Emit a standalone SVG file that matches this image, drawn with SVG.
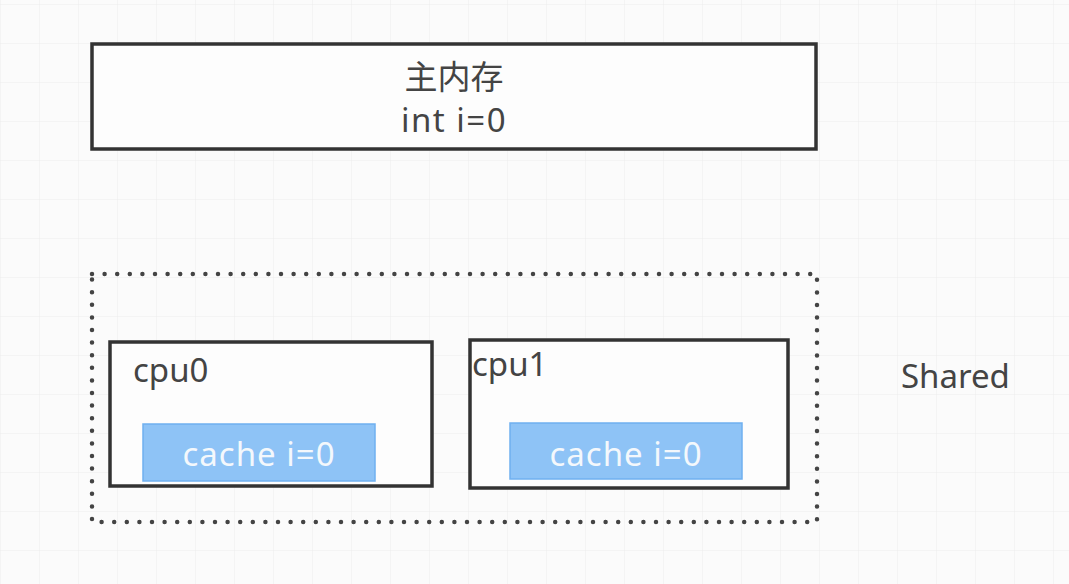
<svg xmlns="http://www.w3.org/2000/svg" width="1069" height="584" viewBox="0 0 1069 584">
  <defs>
    <pattern id="grid" x="1" y="5" width="39" height="39" patternUnits="userSpaceOnUse">
      <path d="M39 0V39M0 39H39" fill="none" stroke="#ececec" stroke-width="1"/>
    </pattern>
    <style>
      .box { fill: #fdfdfd; stroke: #333; stroke-width: 3.5; }
      .dots { fill: none; stroke: #444; stroke-width: 4.5; stroke-dasharray: 0 12.6; stroke-linecap: round; }
      .cache { fill: #8ec3f6; stroke: #6fb0f0; stroke-width: 1.5; }
      .t { font-family: "Noto Sans", "Noto Sans CJK SC", sans-serif; fill: #444; font-size: 33px; }
      .ct { font-family: "Noto Sans", "Noto Sans CJK SC", sans-serif; fill: #f4f8fc; font-size: 33px; text-anchor: middle; letter-spacing: 1px; }
    </style>
  </defs>
  <rect width="1069" height="584" fill="#fbfbfb"/>
  <rect width="1069" height="584" fill="url(#grid)"/>

  <g id="main-memory">
    <rect class="box" x="92" y="44" width="724" height="105"/>
    <text class="t" x="454" y="89" text-anchor="middle" font-size="31">主内存</text>
    <text class="t" x="454" y="132" text-anchor="middle" font-size="32" letter-spacing="1.5">int i=0</text>
  </g>

  <g id="shared-group">
    <rect class="dots" x="92" y="274" width="725" height="248"/>
  </g>

  <g id="cpu0">
    <rect class="box" x="110" y="342" width="322" height="144"/>
    <text class="t" x="133" y="382">cpu0</text>
  </g>
  <g id="cache0">
    <rect class="cache" x="143" y="424" width="232" height="57"/>
    <text class="ct" x="259" y="466">cache i=0</text>
  </g>

  <g id="cpu1">
    <rect class="box" x="470" y="340" width="318" height="148"/>
    <text class="t" x="472" y="376">cpu1</text>
  </g>
  <g id="cache1">
    <rect class="cache" x="510" y="423" width="232" height="56"/>
    <text class="ct" x="626" y="466">cache i=0</text>
  </g>

  <g id="shared-label">
    <text class="t" x="901" y="388">Shared</text>
  </g>

  <g id="connectors"></g>
</svg>
